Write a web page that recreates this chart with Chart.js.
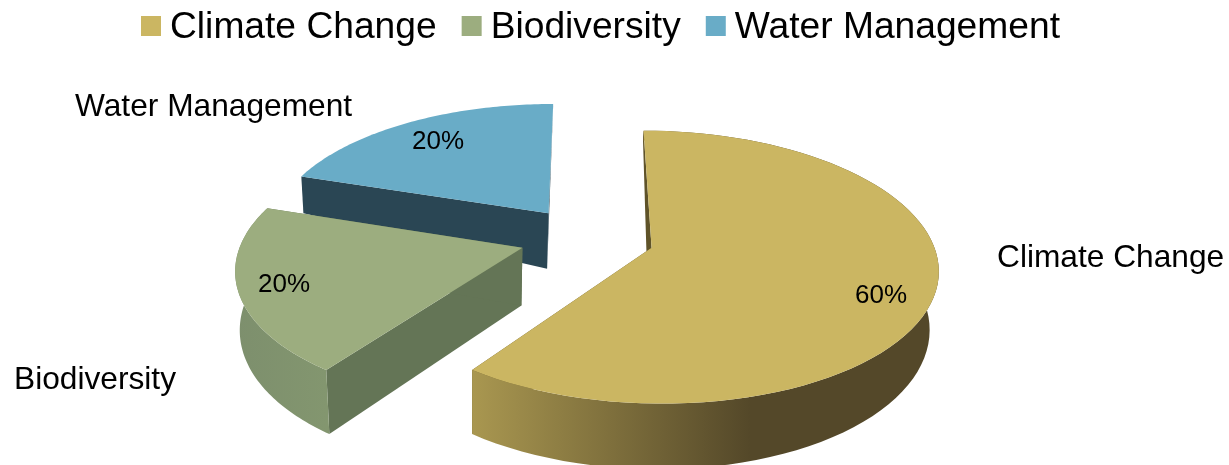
<!DOCTYPE html>
<html>
<head>
<meta charset="utf-8">
<style>
	html, body { margin: 0; padding: 0; background: #fff; overflow: hidden; }
	canvas { display: block; }
</style>
<script src="https://cdn.jsdelivr.net/npm/chart.js@4/dist/chart.umd.min.js"></script>
</head>
<body>
<canvas id="pieChart" width="1229" height="465"></canvas>
<script>
const categories = ['Climate Change', 'Biodiversity', 'Water Management'];
const shares = [60, 20, 20];
const topColors = ['#cbb662', '#9cad7f', '#69acc7'];
const faceColors = ['#5f5329', '#647556', '#2a4654'];
const rimColors = [['#a99750', '#544829'], ['#7d8f6d', '#83966f'], ['#2a4654', '#2a4654']];

const fontName = '"Liberation Sans", Arial, sans-serif';

// where the text sits, same order as categories
const nameSpots = [[997, 267], [14, 389], [75, 116]];
const pctSpots = [[855, 303], [258, 292], [412, 149]];

// fake 3d, the library gives the angles and this turns them into a tilted disc
const view = { cx: 587, cy: 238, a: 280, b: 131, k: 0.14, explode: 0.24, vanish: 470 };

function project(u, v) {
	const w = 1 - view.k * v;
	return { x: view.cx + view.a * u / w, y: view.cy + view.b * v / w };
}

function depthAt(v) {
	return Math.max(4, Math.min(57 + 8 * v, 69 + 64 * v));
}

// same point pushed down to the bottom of the slab
function lower(u, v) {
	const p = project(u, v);
	const d = depthAt(v);
	return { x: p.x + (view.vanish - p.x) * 0.02 * d / 60, y: p.y + d };
}

function fillPath(ctx, pts, fill) {
	ctx.beginPath();
	pts.forEach((p, i) => i ? ctx.lineTo(p.x, p.y) : ctx.moveTo(p.x, p.y));
	ctx.closePath();
	ctx.fillStyle = fill;
	ctx.fill();
}

const pie3d = {
	id: 'pie3d',
	beforeDatasetsDraw(chart) {
		const ctx = chart.ctx;
		const arcs = chart.getDatasetMeta(0).data;
		// back to front
		[2, 1, 0].forEach(i => {
			const arc = arcs[i];
			const mid = (arc.startAngle + arc.endAngle) / 2;
			const ox = Math.cos(mid) * view.explode;
			const oy = Math.sin(mid) * view.explode;
			const top = [];
			const bottom = [];
			const steps = 80;
			for (let s = 0; s <= steps; s++) {
				const t = arc.startAngle + (arc.endAngle - arc.startAngle) * s / steps;
				const u = ox + Math.cos(t);
				const v = oy + Math.sin(t);
				top.push(project(u, v));
				bottom.push(lower(u, v));
			}
			const apexTop = project(ox, oy);
			const apexLow = lower(ox, oy);

			// flat cut faces
			fillPath(ctx, [apexTop, top[0], bottom[0], apexLow], faceColors[i]);
			fillPath(ctx, [apexTop, top[steps], bottom[steps], apexLow], faceColors[i]);

			// curved rim, gold one goes dark about two thirds along
			const xs = top.map(p => p.x);
			const left = Math.min(...xs);
			const grad = ctx.createLinearGradient(left, 0, i === 0 ? 750 : top[0].x, 0);
			grad.addColorStop(0, rimColors[i][0]);
			grad.addColorStop(1, rimColors[i][1]);
			fillPath(ctx, top.concat(bottom.slice().reverse()), grad);

			// lid
			fillPath(ctx, [apexTop].concat(top), topColors[i]);
		});
		return false;
	},
	afterDraw(chart) {
		const ctx = chart.ctx;
		ctx.save();
		ctx.fillStyle = '#000';
		ctx.textBaseline = 'alphabetic';
		ctx.textAlign = 'left';

		// legend strip
		ctx.font = '37.2px ' + fontName;
		let x = 141;
		categories.forEach((name, i) => {
			ctx.fillStyle = topColors[i];
			ctx.fillRect(x, 16, 20, 20);
			ctx.fillStyle = '#000';
			ctx.fillText(name, x + 29, 38);
			x += 29 + ctx.measureText(name).width + 25;
		});

		ctx.font = '31.7px ' + fontName;
		categories.forEach((name, i) => ctx.fillText(name, nameSpots[i][0], nameSpots[i][1]));

		ctx.font = '26px ' + fontName;
		shares.forEach((val, i) => ctx.fillText(val + '%', pctSpots[i][0], pctSpots[i][1]));
		ctx.restore();
	}
};

new Chart(document.getElementById('pieChart'), {
	type: 'pie',
	data: {
		labels: categories,
		datasets: [
			{
				data: shares,
				backgroundColor: topColors
			}
		]
	},
	options: {
		responsive: false,
		animation: false,
		devicePixelRatio: 1,
		events: [],
		plugins: {
			legend: { display: false },
			tooltip: { enabled: false }
		}
	},
	plugins: [pie3d]
});
</script>
</body>
</html>
